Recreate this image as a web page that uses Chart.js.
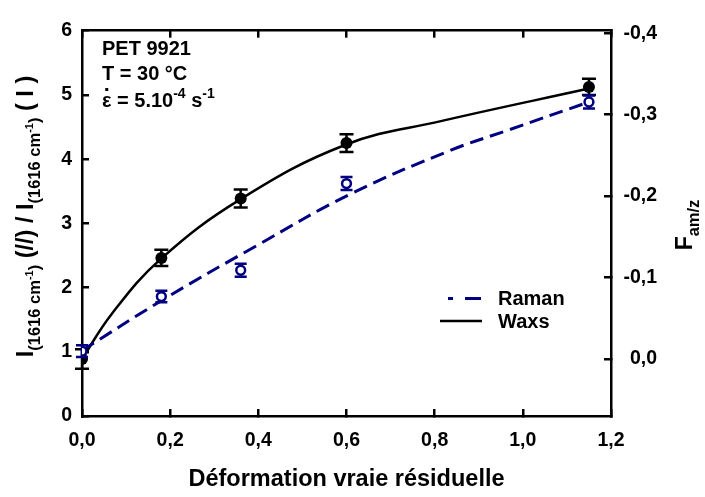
<!DOCTYPE html>
<html><head><meta charset="utf-8">
<script src="https://cdn.jsdelivr.net/npm/chart.js@4/dist/chart.umd.min.js"></script>
<style>html,body{margin:0;padding:0;background:#fff}canvas{display:block}</style>
</head><body>
<canvas id="c" width="705" height="497" style="width:705px;height:497px"></canvas>
<script>
// ---- data ----
const xTicks = [0, 0.2, 0.4, 0.6, 0.8, 1.0, 1.2];
const yTicks = [0, 1, 2, 3, 4, 5, 6];
const y2Ticks = [-0.4, -0.3, -0.2, -0.1, 0.0];
const strain = [0, 0.18, 0.36, 0.6, 1.15];
const ramanRatio = [1.01, 1.86, 2.27, 3.62, 4.89];
const ramanErr = [0.09, 0.09, 0.10, 0.10, 0.10];
const waxsF = [0.0, -0.124, -0.197, -0.265, -0.334];
const waxsErr = [0.012, 0.010, 0.011, 0.011, 0.010];
const ramanFitX = [0, 0.181, 0.393, 0.61, 0.837, 0.966, 1.15];
const ramanFitY = [1.02, 1.80, 2.64, 3.46, 4.14, 4.45, 4.89];
const waxsFitX = [0, 0.067, 0.177, 0.359, 0.598, 0.814, 1.15];
const waxsFitY = [0, -0.055, -0.122, -0.196, -0.263, -0.292, -0.332];
const seriesNames = ['Raman', 'Waxs'];

const FONT = "'Liberation Sans', Arial, sans-serif";
const NAVY = '#000080';

const toPts = (xs, ys) => xs.map((x, i) => ({x, y: ys[i]}));
const comma1 = v => (Math.abs(v) < 1e-9 ? 0 : v).toFixed(1).replace('.', ',');

const errorBars = {
  id: 'errorBars',
  beforeDatasetDraw(chart, args) {
    const ds = chart.data.datasets[args.index];
    if (!ds.errors) return;
    const xs = chart.scales.x, ys = chart.scales[ds.yAxisID], ctx = chart.ctx;
    ctx.save();
    ctx.strokeStyle = ds.errColor; ctx.lineWidth = 2.5;
    ds.data.forEach((p, i) => {
      const e = ds.errors[i];
      const px = xs.getPixelForValue(p.x);
      const a = ys.getPixelForValue(p.y - e), b = ys.getPixelForValue(p.y + e);
      const c = ds.errCap;
      ctx.beginPath();
      ctx.moveTo(px, a); ctx.lineTo(px, b);
      ctx.moveTo(px - c, a); ctx.lineTo(px + c, a);
      ctx.moveTo(px - c, b); ctx.lineTo(px + c, b);
      ctx.stroke();
    });
    ctx.restore();
  }
};

function drawRich(ctx, segs, x, y) {
  for (const s of segs) {
    ctx.font = `bold ${s.size}px ${FONT}`;
    ctx.fillText(s.t, x, y + (s.dy || 0));
    x += ctx.measureText(s.t).width;
  }
  return x;
}
function richWidth(ctx, segs) {
  let w = 0;
  for (const s of segs) { ctx.font = `bold ${s.size}px ${FONT}`; w += ctx.measureText(s.t).width; }
  return w;
}
function drawRotated(ctx, segs, cx, cy) {
  ctx.save();
  ctx.translate(cx, cy);
  ctx.rotate(-Math.PI / 2);
  const w = richWidth(ctx, segs);
  drawRich(ctx, segs, -w / 2, 0);
  ctx.restore();
}

const decorations = {
  id: 'decorations',
  afterDraw(chart) {
    const ctx = chart.ctx;
    ctx.save();
    ctx.fillStyle = '#000';
    ctx.textBaseline = 'alphabetic';
    ctx.textAlign = 'left';
    // annotation
    drawRich(ctx, [{t: 'PET 9921', size: 20}], 102, 55);
    drawRich(ctx, [{t: 'T = 30 °C', size: 20}], 102, 80);
    ctx.font = `bold 20px ${FONT}`;
    const epsW = ctx.measureText('ε').width;
    drawRich(ctx, [{t: 'ε = 5.10', size: 20}, {t: '-4', size: 14, dy: -9}, {t: ' s', size: 20}, {t: '-1', size: 14, dy: -9}], 102, 107);
    ctx.fillRect(102 + epsW / 2 - 1.5, 88, 3, 3);
    // left axis title
    drawRotated(ctx, [
      {t: 'I', size: 23.5}, {t: '(1616 cm', size: 16.5, dy: 7}, {t: '-1', size: 11, dy: 0}, {t: ')', size: 16.5, dy: 7},
      {t: ' (//) / I', size: 23.5}, {t: '(1616 cm', size: 16.5, dy: 7}, {t: '-1', size: 11, dy: 0}, {t: ')', size: 16.5, dy: 7},
      {t: ' ( I )', size: 23.5}
    ], 33, 216.5);
    // right axis title
    drawRotated(ctx, [{t: 'F', size: 23}, {t: 'am/z', size: 16.5, dy: 7}], 692, 225);
    // legend
    ctx.lineCap = 'butt';
    ctx.strokeStyle = NAVY; ctx.lineWidth = 3;
    ctx.setLineDash([5, 12, 16, 100]);
    ctx.beginPath(); ctx.moveTo(448, 298.5); ctx.lineTo(482, 298.5); ctx.stroke();
    ctx.setLineDash([]);
    ctx.strokeStyle = '#000'; ctx.lineWidth = 2.5;
    ctx.beginPath(); ctx.moveTo(440, 321); ctx.lineTo(482, 321); ctx.stroke();
    ctx.textBaseline = 'middle';
    ctx.font = `bold 20px ${FONT}`;
    ctx.fillText(seriesNames[0], 498, 299);
    ctx.fillText(seriesNames[1], 498, 322.5);
    ctx.restore();
  }
};

const tickFont = {family: FONT, size: 19.5, weight: 'bold'};
const gridCommon = {display: true, drawOnChartArea: false, drawTicks: true, tickLength: -7, lineWidth: 2.5, color: '#000'};
const borderCommon = {display: true, width: 2.5, color: '#000'};

new Chart(document.getElementById('c'), {
  type: 'scatter',
  data: {
    datasets: [
      {label: 'Raman pts', data: toPts(strain, ramanRatio), yAxisID: 'y', showLine: false,
       pointRadius: 4.4, pointBorderWidth: 2.5, pointBackgroundColor: '#fff', pointBorderColor: NAVY,
       errors: ramanErr, errColor: NAVY, errCap: 6},
      {label: 'Waxs pts', data: toPts(strain, waxsF), yAxisID: 'y2', showLine: false,
       pointRadius: 6, pointBorderWidth: 0, pointBackgroundColor: '#000', pointBorderColor: '#000',
       errors: waxsErr, errColor: '#000', errCap: 7},
      {label: seriesNames[0], data: toPts(ramanFitX, ramanFitY), yAxisID: 'y', showLine: true,
       borderColor: NAVY, borderWidth: 3, borderDash: [14, 7], pointRadius: 0, tension: 0.4, fill: false},
      {label: seriesNames[1], data: toPts(waxsFitX, waxsFitY), yAxisID: 'y2', showLine: true,
       borderColor: '#000', borderWidth: 2.5, pointRadius: 0, tension: 0.4, fill: false}
    ]
  },
  options: {
    responsive: false, animation: false, devicePixelRatio: 1,
    layout: {padding: {left: 0, top: 0, bottom: 0, right: 48}},
    plugins: {legend: {display: false}, tooltip: {enabled: false}},
    scales: {
      x: {type: 'linear', position: 'bottom', min: 0, max: 1.2,
          afterBuildTicks: s => { s.ticks = xTicks.map(v => ({value: v})); },
          afterFit: s => { s.height = 81; },
          grid: gridCommon, border: borderCommon,
          ticks: {font: tickFont, color: '#000', padding: 20, maxRotation: 0, autoSkip: false, callback: v => comma1(v)},
          title: {display: true, text: 'Déformation vraie résiduelle', color: '#000',
                  font: {family: FONT, size: 23.5, weight: 'bold'}, padding: {top: 0, bottom: 3}}},
      x2: {type: 'linear', position: 'top', min: 0, max: 1.2,
          afterBuildTicks: s => { s.ticks = xTicks.map(v => ({value: v})); },
          afterFit: s => { s.height = 16; },
          grid: gridCommon, border: borderCommon, ticks: {display: false}},
      y: {type: 'linear', position: 'left', min: 0, max: 6,
          afterBuildTicks: s => { s.ticks = yTicks.map(v => ({value: v})); },
          afterFit: s => { s.width = 82; },
          grid: gridCommon, border: borderCommon,
          ticks: {font: tickFont, color: '#000', padding: 17, callback: v => String(v)}},
      y2: {type: 'linear', position: 'right', min: -0.403, max: 0.07, reverse: true,
          afterBuildTicks: s => { s.ticks = y2Ticks.map(v => ({value: v})); },
          afterFit: s => { s.width = 46; },
          grid: gridCommon, border: borderCommon,
          ticks: {font: tickFont, color: '#000', padding: 19, crossAlign: 'far', callback: v => comma1(v)}}
    }
  },
  plugins: [errorBars, decorations]
});
</script>
</body></html>
